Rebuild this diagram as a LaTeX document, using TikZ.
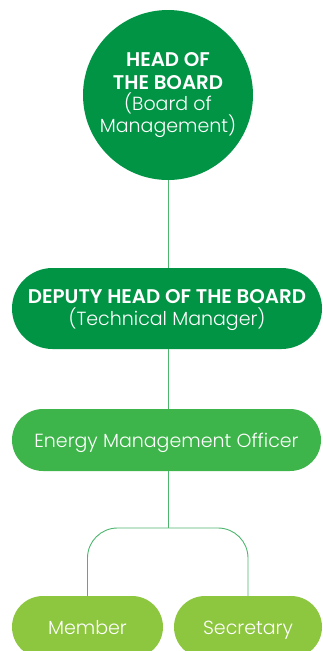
\documentclass[tikz,border=0pt]{standalone}
\usepackage{fontspec}
\setmainfont{Poppins}
\newfontfamily\plight{Poppins}[UprightFont=* Light, BoldFont=* SemiBold]
\newfontfamily\pbold{Poppins}[UprightFont=* SemiBold]
\newcommand{\bld}{\pbold\fontsize{19.8}{22}\selectfont}
\definecolor{dkgreen}{HTML}{009444}
\definecolor{mdgreen}{HTML}{3DB54A}
\definecolor{ltgreen}{HTML}{8DC63F}
\definecolor{lncol}{HTML}{4DB56E}
\begin{document}
\begin{tikzpicture}[x=1pt,y=-1pt,
  box/.style={rectangle, text=white, align=center, inner sep=0pt},
  one/.style={text height=14pt, text depth=0pt},
  conn/.style={draw=lncol, line width=0.9pt},
  lt/.style={font=\plight\fontsize{19}{22}\selectfont}]
\useasboundingbox (0,0) rectangle (322,651);
\node[circle, fill=dkgreen, minimum size=170pt, text=white, align=center, inner sep=0pt, lt] (head) at (168,95)
  {\bld HEAD OF\\[1pt]\bld THE BOARD\\[-1pt](Board of\\Management)};
\node[box, fill=dkgreen, minimum width=310pt, minimum height=81pt, rounded corners=40.5pt, lt] (deputy) at (167,308.5)
  {\rule{0pt}{18pt}\bld DEPUTY HEAD OF THE BOARD\\(Technical Manager)};
\node[box, one, fill=mdgreen, minimum width=309pt, minimum height=62pt, rounded corners=31pt, lt] (emo) at (166.5,440) {Energy Management Officer};
\node[box, one, fill=ltgreen, minimum width=151pt, minimum height=62pt, rounded corners=31pt, lt] (member) at (87.5,627) {Member};
\node[box, one, fill=ltgreen, minimum width=148pt, minimum height=62pt, rounded corners=31pt, lt] (secretary) at (248,627) {Secretary};
\coordinate (split) at (168,528);
\draw[conn] (head.south) -- (deputy.north -| head.south);
\draw[conn] (deputy.south -| head.south) -- (emo.north -| head.south);
\draw[conn] (emo.south -| head.south) -- (split);
\draw[conn, rounded corners=30pt] (member.north) |- (split) -| (secretary.north);
\end{tikzpicture}
\end{document}
